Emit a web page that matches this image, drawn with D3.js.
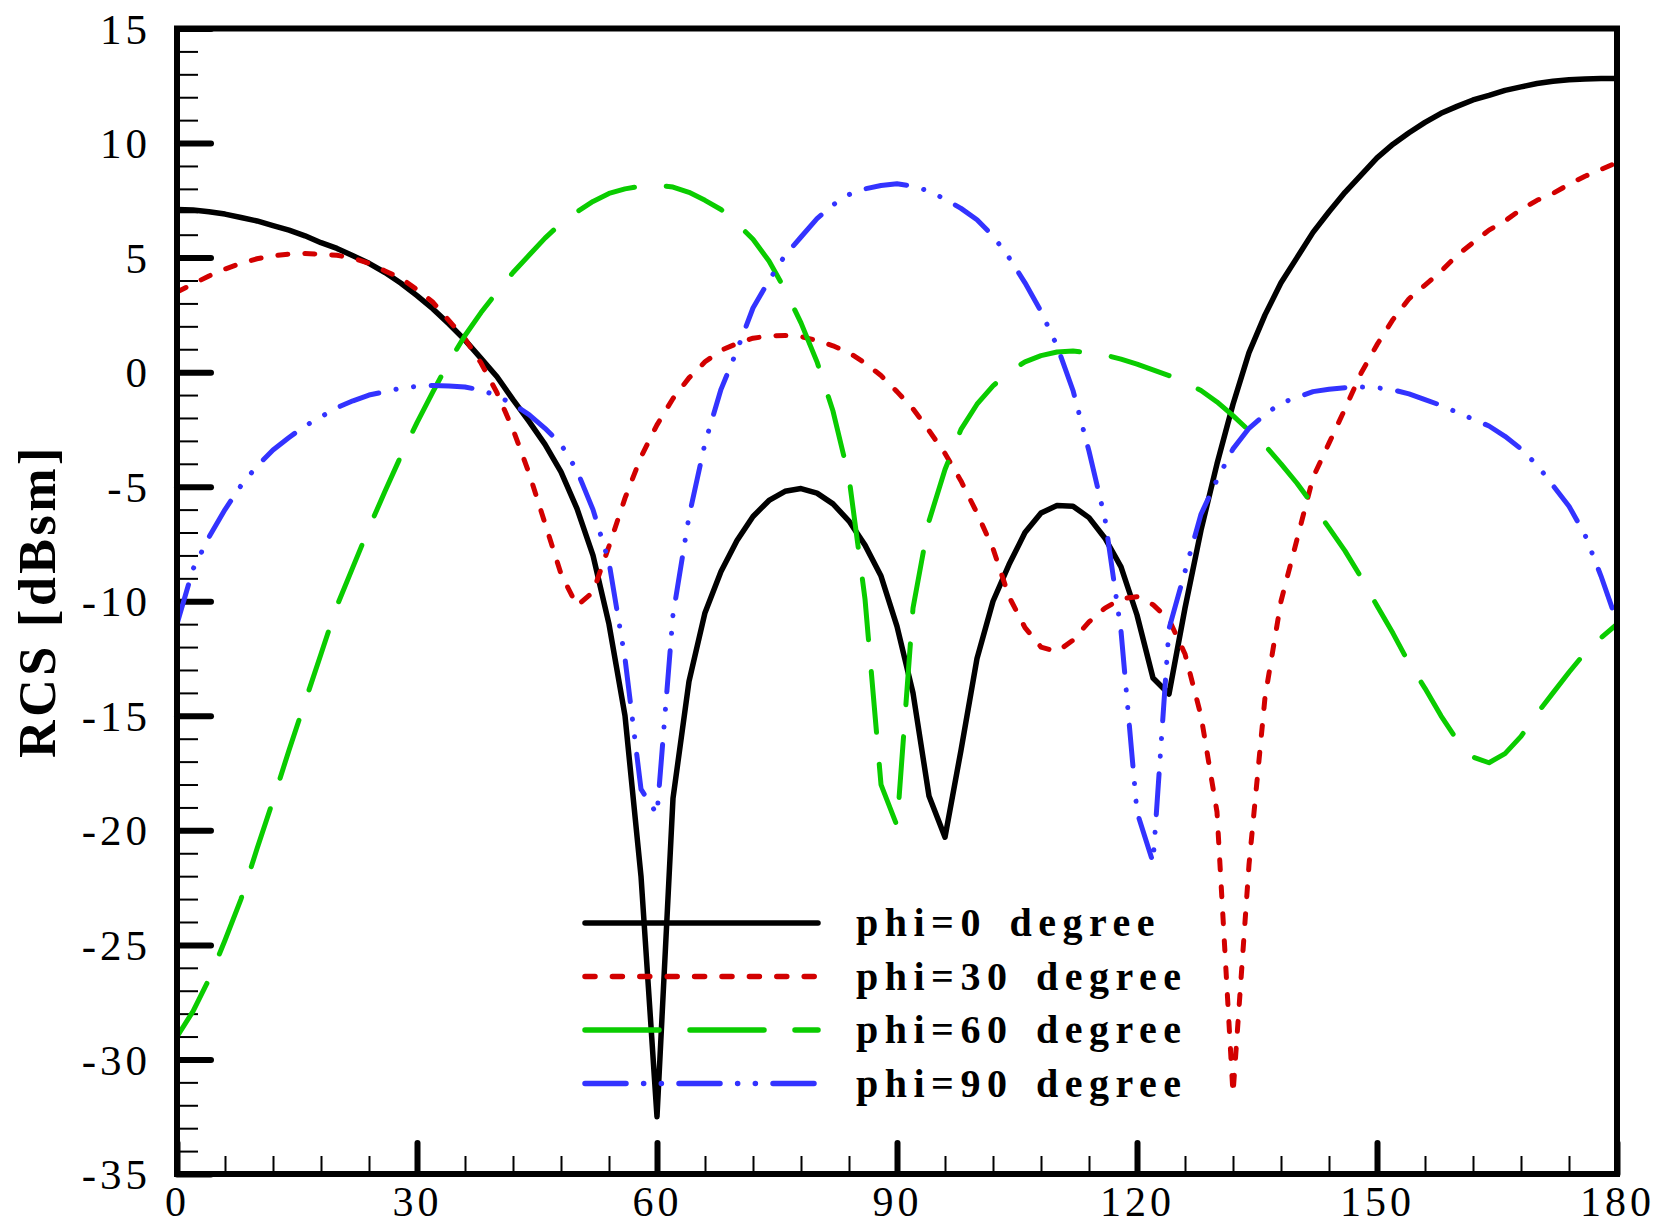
<!DOCTYPE html>
<html><head><meta charset="utf-8">
<script src="https://cdn.jsdelivr.net/npm/d3@7"></script>
<style>html,body{margin:0;padding:0;background:#fff}svg{display:block}</style>
</head><body>
<svg id="c" width="1661" height="1228"></svg>
<script>
const angles = [0,2,4,6,8,10,12,14,16,18,20,22,24,26,28,30,32,34,36,38,40,42,44,46,48,50,52,54,56,58,60,62,64,66,68,70,72,74,76,78,80,82,84,86,88,90,92,94,96,98,100,102,104,106,108,110,112,114,116,118,120,122,124,126,128,130,132,134,136,138,140,142,144,146,148,150,152,154,156,158,160,162,164,166,168,170,172,174,176,178,180];
const phi0 = [7.1,7.08,7.0,6.9,6.75,6.6,6.4,6.2,5.95,5.65,5.4,5.08,4.75,4.35,3.88,3.34,2.76,2.1,1.4,0.6,-0.2,-1.2,-2.15,-3.15,-4.35,-5.96,-8.0,-11.0,-15.0,-22.0,-32.5,-18.6,-13.5,-10.5,-8.7,-7.35,-6.3,-5.6,-5.2,-5.08,-5.28,-5.75,-6.5,-7.55,-8.9,-11.1,-14.0,-18.5,-20.3,-16.5,-12.5,-10.0,-8.4,-7.0,-6.15,-5.82,-5.85,-6.35,-7.25,-8.5,-10.6,-13.35,-14.05,-10.3,-6.9,-4.0,-1.4,0.85,2.5,3.9,5.0,6.1,7.0,7.85,8.6,9.35,9.95,10.45,10.9,11.3,11.6,11.88,12.08,12.3,12.45,12.6,12.7,12.76,12.8,12.82,12.82];
const phi30 = [3.5,3.85,4.2,4.5,4.75,4.95,5.08,5.15,5.18,5.15,5.1,4.98,4.75,4.42,4.1,3.6,3.05,2.25,1.45,0.4,-0.9,-2.5,-4.4,-6.6,-8.8,-10.2,-9.6,-7.6,-5.5,-3.7,-2.3,-1.15,-0.25,0.45,0.95,1.25,1.48,1.58,1.6,1.55,1.38,1.15,0.85,0.4,-0.15,-0.85,-1.6,-2.55,-3.55,-4.75,-6.15,-7.7,-9.8,-11.15,-12.0,-12.2,-11.7,-10.9,-10.3,-9.9,-9.8,-10.15,-10.8,-12.3,-15.0,-19.2,-31.5,-21.5,-14.2,-10.0,-7.3,-4.6,-3.1,-1.6,-0.05,1.2,2.3,3.2,3.8,4.4,5.1,5.65,6.2,6.6,7.1,7.5,7.8,8.2,8.55,8.85,9.15];
const phi60 = [-29.0,-27.9,-26.5,-24.8,-23.0,-20.8,-18.7,-16.5,-14.4,-12.3,-10.2,-8.5,-6.8,-5.2,-3.65,-2.2,-0.85,0.45,1.6,2.6,3.5,4.35,5.1,5.85,6.5,7.0,7.45,7.8,8.0,8.12,8.17,8.08,7.85,7.5,7.1,6.5,5.8,4.85,3.6,2.15,0.45,-1.7,-4.6,-9.9,-18.0,-19.8,-10.3,-6.5,-4.25,-2.5,-1.4,-0.6,0.0,0.45,0.72,0.88,0.92,0.85,0.75,0.57,0.35,0.1,-0.15,-0.45,-0.8,-1.3,-1.9,-2.55,-3.2,-4.0,-4.85,-5.8,-6.8,-7.8,-8.95,-10.2,-11.4,-12.7,-13.8,-15.0,-16.05,-16.8,-17.05,-16.65,-15.9,-14.9,-14.0,-13.1,-12.25,-11.6,-11.0];
const phi90 = [-11.0,-8.6,-7.2,-6.0,-4.95,-4.1,-3.4,-2.85,-2.35,-1.95,-1.55,-1.25,-1.0,-0.85,-0.7,-0.62,-0.58,-0.6,-0.65,-0.78,-1.03,-1.4,-1.85,-2.45,-3.15,-4.3,-6.0,-8.3,-12.5,-18.2,-19.3,-10.6,-6.3,-3.1,-0.75,0.95,2.8,4.0,5.1,5.9,6.7,7.3,7.75,8.0,8.15,8.22,8.12,7.9,7.55,7.15,6.65,5.95,5.0,3.9,2.65,1.15,-0.8,-3.45,-6.4,-11.3,-19.2,-21.4,-11.2,-8.7,-6.2,-4.7,-3.35,-2.45,-1.85,-1.35,-1.1,-0.85,-0.75,-0.68,-0.65,-0.68,-0.77,-0.95,-1.2,-1.45,-1.75,-2.05,-2.35,-2.8,-3.35,-4.05,-4.95,-5.85,-7.1,-8.9,-10.9];
const xTicks = [0,30,60,90,120,150,180];
const yTicks = [15,10,5,0,-5,-10,-15,-20,-25,-30,-35];
const seriesNames = ["phi=0 degree","phi=30 degree","phi=60 degree","phi=90 degree"];
const yTitle = "RCS [dBsm]";

const series = [phi0, phi30, phi60, phi90];
const colors = ["#000000","#d20000","#0acc00","#3333ff"];
const dashPlot = [null, "10,17", "61,32", "41,17.6,0.1,17.6,0.1,17.6"];
const dashLegend = [null, "10,17.4", "74,31", "41,17.6,0.1,17.6,0.1,17.6"];

const L=177, R=1617, T=28.5, B=1174;
const serif = '"Liberation Serif","Times New Roman",serif';
const svg = d3.select("#c");
const x = d3.scaleLinear().domain([0,180]).range([L,R]);
const y = d3.scaleLinear().domain([-35,15]).range([B,T]);

// minor ticks
const xMinor = d3.range(0,181,6).filter(v=>v%30!==0);
const yMinor = d3.range(-35,16,1).filter(v=>v%5!==0);
const gxm = svg.append("g").attr("transform",`translate(0,${B})`)
  .call(d3.axisBottom(x).tickValues(xMinor).tickSize(-18).tickFormat(""));
const gym = svg.append("g").attr("transform",`translate(${L},0)`)
  .call(d3.axisLeft(y).tickValues(yMinor).tickSize(-21).tickFormat(""));
[gxm,gym].forEach(g=>{g.select(".domain").remove();g.selectAll("line").attr("stroke","#000").attr("stroke-width",2);});

// major ticks
const gx = svg.append("g").attr("transform",`translate(0,${B})`)
  .call(d3.axisBottom(x).tickValues(xTicks).tickSize(-31).tickPadding(12).tickFormat(d=>String(d)));
const gy = svg.append("g").attr("transform",`translate(${L},0)`)
  .call(d3.axisLeft(y).tickValues(yTicks).tickSize(-34).tickPadding(26).tickFormat(d=>String(d)));
[gx,gy].forEach(g=>{
  g.select(".domain").remove();
  g.selectAll("line").attr("stroke","#000").attr("stroke-width",6).attr("stroke-linecap","round");
  g.selectAll("text").attr("fill","#000").style("font-family",serif).style("font-size","42px").style("letter-spacing","4px");
});
gy.selectAll("text").style("font-size","43px").attr("dy","0.34em");

// curves
svg.append("clipPath").attr("id","clip").append("rect").attr("x",L).attr("y",T).attr("width",R-L).attr("height",B-T);
const line = d3.line().x((d,i)=>x(angles[i])).y(d=>y(d)).curve(d3.curveLinear);
const gc = svg.append("g").attr("clip-path","url(#clip)");
series.forEach((s,i)=>{
  gc.append("path").datum(s).attr("d",line).attr("fill","none")
    .attr("stroke",colors[i]).attr("stroke-width",i===0?5.5:5)
    .attr("stroke-linecap","round").attr("stroke-linejoin","round")
    .attr("stroke-dasharray",dashPlot[i]);
});

// frame
svg.append("rect").attr("x",L).attr("y",T).attr("width",R-L).attr("height",B-T)
  .attr("fill","none").attr("stroke","#000").attr("stroke-width",6);

// legend
const legY = [923,976.5,1030,1083.5];
const gl = svg.append("g");
seriesNames.forEach((n,i)=>{
  gl.append("line").attr("x1",585).attr("x2",818).attr("y1",legY[i]).attr("y2",legY[i])
    .attr("stroke",colors[i]).attr("stroke-width",5.5).attr("stroke-linecap","round")
    .attr("stroke-dasharray",dashLegend[i]);
  gl.append("text").attr("x",856).attr("y",legY[i]+13).text(n)
    .style("font-family",serif).style("font-weight","bold").style("font-size","40px")
    .style("letter-spacing","6.5px").style("word-spacing","6px").attr("fill","#000");
});

// y title
svg.append("text").attr("transform","translate(55,601) rotate(-90)")
  .attr("text-anchor","middle").text(yTitle)
  .style("font-family",serif).style("font-weight","bold").style("font-size","52px")
  .style("letter-spacing","3.5px").attr("fill","#000");
</script>
</body></html>
